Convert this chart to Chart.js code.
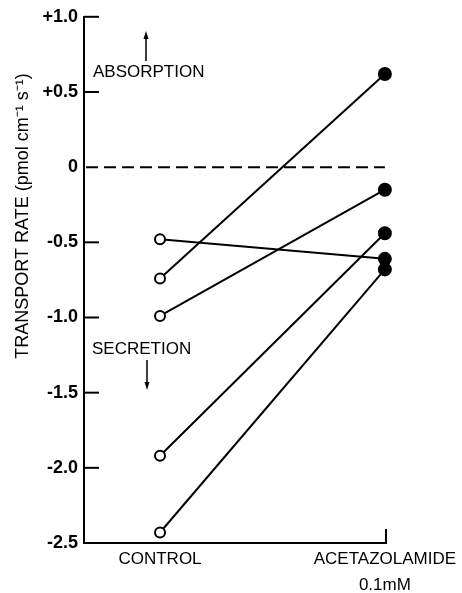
<!DOCTYPE html>
<html>
<head>
<meta charset="utf-8">
<script src="https://cdn.jsdelivr.net/npm/chart.js@4/dist/chart.umd.min.js"></script>
<style>
  html, body { margin: 0; padding: 0; background: #fff; }
  #wrap { width: 462px; height: 593px; }
</style>
</head>
<body>
<div id="wrap"><canvas id="myChart" width="462" height="593"></canvas></div>
<script>
// values
const categories = ['CONTROL', 'ACETAZOLAMIDE']
const control = [-0.48, -0.74, -0.99, -1.92, -2.43]
const acetazolamide = [-0.61, 0.62, -0.15, -0.44, -0.68]
const yTickValues = [-2.5, -2.0, -1.5, -1.0, -0.5, 0, 0.5, 1.0]
const yTickLabels = ['-2.5', '-2.0', '-1.5', '-1.0', '-0.5', '0', '+0.5', '+1.0']

const FONT = "'Liberation Sans', Arial, sans-serif"

const datasets = control.map((c, i) => ({
  data: [{ x: 0, y: c }, { x: 1, y: acetazolamide[i] }],
  borderColor: '#000',
  borderWidth: 2,
  pointRadius: [5, 6],
  pointHoverRadius: [5, 6],
  pointBorderWidth: 2,
  pointBorderColor: '#000',
  pointBackgroundColor: ['#fff', '#000'],
  fill: false,
  tension: 0,
  clip: false,
}))

// dashed zero line, inward tick marks, labels and arrows
const extras = {
  id: 'extras',
  beforeDatasetsDraw(chart) {
    const { ctx, chartArea: a, scales: { x, y } } = chart
    ctx.save()
    ctx.strokeStyle = '#000'
    ctx.lineWidth = 2
    ctx.setLineDash([12, 6])
    const y0 = y.getPixelForValue(0)
    ctx.beginPath()
    ctx.moveTo(a.left + 2, y0)
    ctx.lineTo(x.getPixelForValue(1), y0)
    ctx.stroke()
    ctx.restore()
  },
  afterDraw(chart) {
    const { ctx, chartArea: a, scales: { y } } = chart
    ctx.save()
    ctx.strokeStyle = '#000'
    ctx.fillStyle = '#000'
    ctx.lineWidth = 2
    // inward ticks
    yTickValues.forEach(v => {
      if (v === 0 || v === -2.5) return
      const py = y.getPixelForValue(v)
      ctx.beginPath()
      ctx.moveTo(a.left, py)
      ctx.lineTo(a.left + 15, py)
      ctx.stroke()
    })
    // end tick on x axis
    ctx.beginPath()
    ctx.moveTo(a.right, a.bottom)
    ctx.lineTo(a.right, a.bottom - 14)
    ctx.stroke()

    // annotations
    ctx.font = '17px ' + FONT
    ctx.textAlign = 'left'
    ctx.textBaseline = 'middle'
    ctx.fillText('ABSORPTION', a.left + 9, 72)
    ctx.fillText('SECRETION', a.left + 8, 349)

    ctx.lineWidth = 1.5
    ctx.beginPath()
    ctx.moveTo(146, 61); ctx.lineTo(146, 36)
    ctx.moveTo(147, 360); ctx.lineTo(147, 385)
    ctx.stroke()
    ctx.beginPath()
    ctx.moveTo(146, 31); ctx.lineTo(143.5, 39); ctx.lineTo(148.5, 39); ctx.closePath()
    ctx.moveTo(147, 390); ctx.lineTo(144.5, 382); ctx.lineTo(149.5, 382); ctx.closePath()
    ctx.fill()

    // y axis title
    ctx.translate(23, 216)
    ctx.rotate(-Math.PI / 2)
    ctx.textAlign = 'center'
    ctx.font = '18px ' + FONT
    ctx.fillText('TRANSPORT RATE (pmol cm\u207B\u00B9 s\u207B\u00B9)', 0, 0)
    ctx.restore()
  },
}

const ctx = document.getElementById('myChart').getContext('2d')
const myChart = new Chart(ctx, {
  type: 'line',
  data: { datasets },
  options: {
    responsive: false,
    animation: false,
    events: [],
    layout: { padding: { left: 0, top: 15, right: 76, bottom: 0 } },
    plugins: { legend: { display: false }, tooltip: { enabled: false } },
    scales: {
      x: {
        type: 'linear',
        min: -0.338,
        max: 1.005,
        grid: { display: false, drawTicks: false },
        border: { display: true, color: '#000', width: 2 },
        afterBuildTicks: scale => { scale.ticks = [{ value: 0 }, { value: 1 }] },
        afterFit: scale => { scale.height = 50 },
        ticks: {
          autoSkip: false,
          maxRotation: 0,
          padding: 3,
          color: '#000',
          font: { family: FONT, size: 17, lineHeight: 1.55 },
          callback: v => (v === 0 ? categories[0] : [categories[1], '0.1mM']),
        },
      },
      y: {
        type: 'linear',
        min: -2.5,
        max: 1.0,
        grid: { display: false, drawTicks: false },
        border: { display: true, color: '#000', width: 2 },
        afterBuildTicks: scale => { scale.ticks = yTickValues.map(v => ({ value: v })) },
        afterFit: scale => { scale.width = 84 },
        ticks: {
          padding: 6,
          color: '#000',
          font: { family: FONT, size: 18, weight: 'bold' },
          callback: (v, i) => yTickLabels[i],
        },
      },
    },
  },
  plugins: [extras],
})
</script>
</body>
</html>
